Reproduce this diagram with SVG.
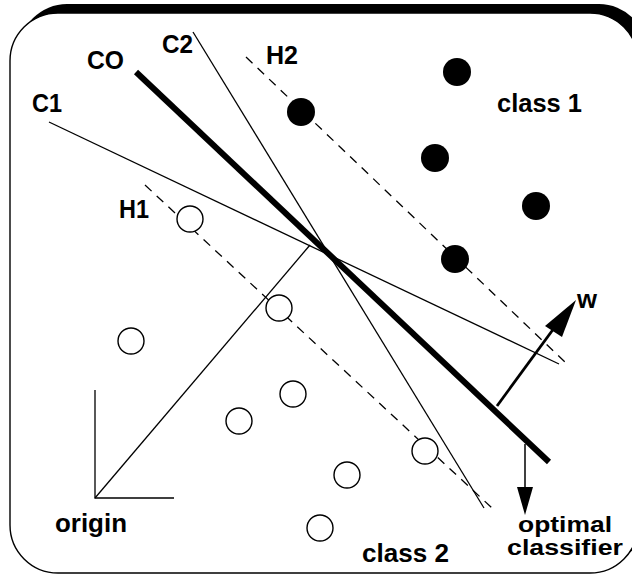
<svg xmlns="http://www.w3.org/2000/svg" width="632" height="575" viewBox="0 0 632 575">
<style>
.thin{stroke:#000;stroke-width:1.3;fill:none}
.dash{stroke:#000;stroke-width:1.3;fill:none;stroke-dasharray:9 7}
.full{fill:#000}
.open{fill:#fff;stroke:#000;stroke-width:1.4}
text{font-family:"Liberation Sans",Arial,sans-serif;font-weight:bold;fill:#000}
</style>
<g id="frame">
<rect x="19" y="4" width="628" height="560" rx="48" fill="#000"/>
<rect x="10" y="13" width="628" height="560" rx="48" fill="#fff" stroke="#000" stroke-width="1.4"/>
</g>
<g id="connectors">
<line id="C1" class="thin" x1="49" y1="122" x2="559" y2="364"/>
<line id="C2" class="thin" x1="193" y1="32" x2="484" y2="508"/>
<line id="H2" class="dash" x1="246" y1="57" x2="567" y2="364"/>
<line id="H1" class="dash" x1="145" y1="185" x2="492" y2="508"/>
<line id="CO" x1="136" y1="72" x2="549" y2="462" stroke="#000" stroke-width="6"/>
<line class="thin" x1="95" y1="498" x2="310" y2="245"/>
<polyline class="thin" points="95,390 95,498 174,498"/>
<line x1="497" y1="406" x2="560" y2="320" stroke="#000" stroke-width="2.8"/>
<polygon points="576,300 545,326 562,337" fill="#000"/>
<line x1="525" y1="444" x2="525" y2="492" stroke="#000" stroke-width="1.5"/>
<polygon points="525,515 517,487 533,487" fill="#000"/>
</g>
<g id="class1">
<g id="p1"><circle class="full" cx="301" cy="112" r="14"/></g>
<g id="p2"><circle class="full" cx="457" cy="72" r="14"/></g>
<g id="p3"><circle class="full" cx="435" cy="158" r="14"/></g>
<g id="p4"><circle class="full" cx="536" cy="206" r="14"/></g>
<g id="p5"><circle class="full" cx="455" cy="259" r="14"/></g>
</g>
<g id="class2">
<g id="q1"><circle class="open" cx="190" cy="219" r="13"/></g>
<g id="q2"><circle class="open" cx="131" cy="341" r="13"/></g>
<g id="q3"><circle class="open" cx="279" cy="308" r="13"/></g>
<g id="q4"><circle class="open" cx="293" cy="394" r="13"/></g>
<g id="q5"><circle class="open" cx="239" cy="421" r="13"/></g>
<g id="q6"><circle class="open" cx="425" cy="451" r="13"/></g>
<g id="q7"><circle class="open" cx="347" cy="475" r="13"/></g>
<g id="q8"><circle class="open" cx="320" cy="528" r="13"/></g>
</g>
<g id="labels">
<g id="lCO"><text x="87" y="69" font-size="26" textLength="37" lengthAdjust="spacingAndGlyphs">CO</text></g>
<g id="lC1"><text x="32" y="112" font-size="26" textLength="30" lengthAdjust="spacingAndGlyphs">C1</text></g>
<g id="lC2"><text x="162" y="53" font-size="26" textLength="31" lengthAdjust="spacingAndGlyphs">C2</text></g>
<g id="lH2"><text x="266" y="64" font-size="26" textLength="32" lengthAdjust="spacingAndGlyphs">H2</text></g>
<g id="lH1"><text x="119" y="218" font-size="26" textLength="30" lengthAdjust="spacingAndGlyphs">H1</text></g>
<g id="lclass1"><text x="497" y="112" font-size="26" textLength="85" lengthAdjust="spacingAndGlyphs">class 1</text></g>
<g id="lw"><text x="577" y="308" font-size="26" textLength="20" lengthAdjust="spacingAndGlyphs">w</text></g>
<g id="lorigin"><text x="55" y="532" font-size="26" textLength="72" lengthAdjust="spacingAndGlyphs">origin</text></g>
<g id="lclass2"><text x="362" y="562" font-size="26" textLength="87" lengthAdjust="spacingAndGlyphs">class 2</text></g>
<g id="lopt"><text x="518" y="532" font-size="22" textLength="94" lengthAdjust="spacingAndGlyphs">optimal</text>
<text x="507" y="555" font-size="22" textLength="116" lengthAdjust="spacingAndGlyphs">classifier</text></g>
</g>
</svg>
